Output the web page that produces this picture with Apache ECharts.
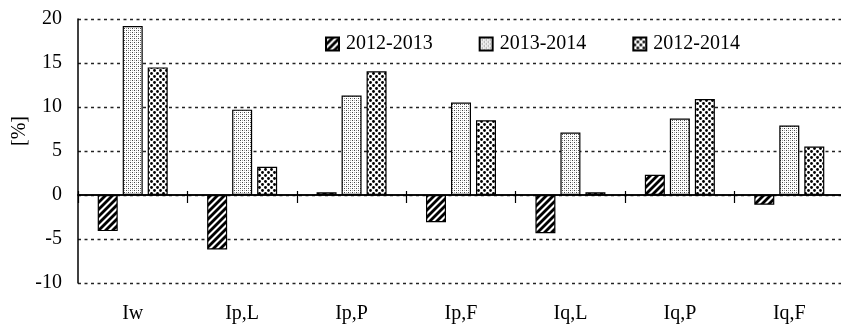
<!DOCTYPE html>
<html><head><meta charset="utf-8">
<script src="https://cdn.jsdelivr.net/npm/echarts@6/dist/echarts.min.js"></script>
<style>html,body{margin:0;padding:0;background:#fff}#c{width:841px;height:326px}</style>
</head><body><div id="c"></div>
<script>
const categories = ['Iw', 'Ip,L', 'Ip,P', 'Ip,F', 'Iq,L', 'Iq,P', 'Iq,F'];
const seriesNames = ['2012-2013', '2013-2014', '2012-2014'];
const s2012_2013 = [-4.1, -6.2, 0.3, -3.1, -4.35, 2.3, -1.1];
const s2013_2014 = [19.2, 9.7, 11.3, 10.5, 7.1, 8.7, 7.9];
const s2012_2014 = [14.5, 3.2, 14.05, 8.5, 0.3, 10.9, 5.5];
const yTicks = [-10, -5, 0, 5, 10, 15, 20];

function makePattern(kind) {
  const c = document.createElement('canvas');
  const ctx = c.getContext('2d');
  if (kind === 'hatch') {
    c.width = 7; c.height = 7;
    ctx.fillStyle = '#fff'; ctx.fillRect(0, 0, 7, 7);
    ctx.strokeStyle = '#000'; ctx.lineWidth = 2.8;
    for (let k = -1; k <= 1; k++) {
      ctx.beginPath();
      ctx.moveTo(k * 7 - 1, 8); ctx.lineTo(k * 7 + 8, -1); ctx.stroke();
    }
  } else if (kind === 'light') {
    c.width = 4; c.height = 4;
    ctx.fillStyle = '#fff'; ctx.fillRect(0, 0, 4, 4);
    ctx.fillStyle = '#444';
    ctx.fillRect(0, 0, 1, 1); ctx.fillRect(2, 2, 1, 1);
    ctx.fillStyle = '#aaa';
    ctx.fillRect(2, 0, 1, 1); ctx.fillRect(0, 2, 1, 1);
  } else {
    c.width = 6; c.height = 6;
    ctx.fillStyle = '#fff'; ctx.fillRect(0, 0, 6, 6);
    ctx.fillStyle = '#000';
    ctx.beginPath(); ctx.arc(1.5, 1.5, 1.4, 0, Math.PI * 2); ctx.fill();
    ctx.beginPath(); ctx.arc(4.5, 4.5, 1.4, 0, Math.PI * 2); ctx.fill();
  }
  return { image: c, repeat: 'repeat' };
}
const fills = [makePattern('hatch'), makePattern('light'), makePattern('dense')];
const values = [s2012_2013, s2013_2014, s2012_2014];

const font = 'Liberation Serif';
const gridBox = { left: 78, top: 19, width: 766, height: 264, containLabel: false, outerBoundsMode: 'none' };
const chart = echarts.init(document.getElementById('c'), null, { renderer: 'canvas' });
chart.setOption({
  animation: false,
  backgroundColor: '#fff',
  textStyle: { fontFamily: font, color: '#000' },
  grid: [Object.assign({}, gridBox), Object.assign({}, gridBox)],
  legend: {
    left: 325, top: 34, padding: 0,
    itemWidth: 13, itemHeight: 13, itemGap: 46,
    icon: 'rect',
    textStyle: { fontFamily: font, fontSize: 20, color: '#000', padding: [0, 0, 0, 2] },
    data: seriesNames
  },
  graphic: [{
    type: 'text', left: 10, top: 116, rotation: Math.PI / 2,
    style: { text: '[%]', font: '20px "Liberation Serif"', fill: '#000' }
  }],
  xAxis: [{
    gridIndex: 0, type: 'category', data: categories, position: 'bottom',
    axisLine: { show: false, onZero: false },
    axisTick: { show: false },
    axisLabel: { margin: 21, fontSize: 20, color: '#000', fontFamily: font },
    splitLine: { show: false }
  }, {
    gridIndex: 0, type: 'category', data: categories, position: 'top',
    axisLine: { show: true, onZero: true, lineStyle: { color: '#000', width: 1.5 } },
    axisTick: { show: true, length: 4, lineStyle: { color: '#000', width: 1.2 } },
    axisLabel: { show: false }
  }, {
    gridIndex: 1, type: 'category', data: categories, position: 'bottom',
    axisLine: { show: true, onZero: true, lineStyle: { color: '#000', width: 1.5 } },
    axisTick: { show: true, length: 8, lineStyle: { color: '#000', width: 1.2 } },
    axisLabel: { show: false }
  }],
  yAxis: [{
    gridIndex: 0, type: 'value', min: -10, max: 20, interval: 5,
    axisLine: { show: true, lineStyle: { color: '#000', width: 1.5 } },
    axisTick: { show: false },
    axisLabel: { margin: 16, fontSize: 20, color: '#000', fontFamily: font,
      formatter: v => yTicks.includes(v) ? String(v) : '' },
    splitLine: { show: true, lineStyle: { color: '#222', type: [3, 3.5], width: 1.3 } }
  }, {
    gridIndex: 1, type: 'value', min: -10, max: 20, interval: 5,
    axisLine: { show: false }, axisTick: { show: false },
    axisLabel: { show: false }, splitLine: { show: false }
  }],
  series: seriesNames.map((n, i) => ({
    name: n, type: 'bar', data: values[i], xAxisIndex: 0, yAxisIndex: 0,
    barWidth: 20, barGap: '25%',
    itemStyle: { color: fills[i], borderColor: '#000', borderWidth: 1.2 }
  }))
});
</script></body></html>
